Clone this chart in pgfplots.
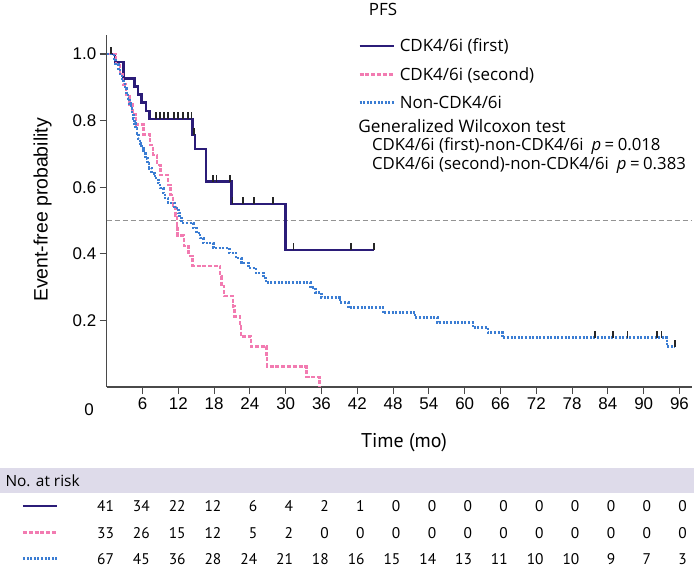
\documentclass[border=0pt]{standalone}
\usepackage{fontspec}
\setmainfont{Liberation Sans}
\newfontfamily\legfont{Open Sans}
\newfontfamily\tabfont{PT Sans}
\usepackage{pgfplots}
\pgfplotsset{compat=1.18}
\definecolor{cnavy}{HTML}{2B1C78}
\definecolor{cpink}{HTML}{F27BB1}
\definecolor{cblue}{HTML}{3B7DD3}
\definecolor{cband}{HTML}{DEDBEA}
\definecolor{caxis}{HTML}{4A4A4A}
\pgfdeclareplotmark{cens}{\pgfpathmoveto{\pgfqpoint{0pt}{0pt}}\pgfpathlineto{\pgfqpoint{0pt}{\pgfplotmarksize}}\pgfusepathqstroke}
\tikzset{
  navyline/.style={cnavy, line width=2.5bp},
  pinkline/.style={cpink, line width=2.5bp, dash pattern=on 4bp off 1.8bp},
  blueline/.style={cblue, line width=2.6bp, dash pattern=on 2bp off 1.6bp},
}
\begin{document}
\begin{tikzpicture}
\useasboundingbox (-106.7bp,-180bp) rectangle (587.3bp,387bp);
\begin{axis}[
  at={(0,0)}, anchor=south west,
  scale only axis, width=585bp, height=352bp,
  xmin=0, xmax=98.05, ymin=0, ymax=1.057,
  axis x line=bottom, axis y line=left,
  axis line style={-, draw=caxis, line width=1.2bp},
  xtick={6,12,...,96}, ytick={0.2,0.4,0.6,0.8,1.0},
  /pgf/number format/assume math mode=true,
  yticklabel style={/pgf/number format/.cd, fixed, fixed zerofill, precision=1},
  tick align=outside, major tick length=7bp,
  tick style={draw=caxis, line width=1.1bp},
  ticklabel style={font=\fontsize{17}{17}\selectfont},
  clip=false,
  legend style={at={(axis cs:42.12,1.0456)}, anchor=north west, draw=none, fill=none,
    inner sep=0pt, row sep=14bp, nodes={inner sep=0pt},
    font=\legfont\fontsize{17}{19}\selectfont,
    /tikz/every odd column/.append style={column sep=5bp}},
  legend cell align=left,
  legend image code/.code={\draw[#1] (0bp,0bp) -- (34bp,0bp);},
]
% median reference line
\addplot[forget plot, color=gray!85, line width=1bp, dash pattern=on 5bp off 3bp] coordinates {(0,0.5) (98.05,0.5)};

\addplot[const plot, navyline] coordinates {
(0,1) (1.39,0.9756) (2.85,0.9268) (4.7,0.9024) (5.27,0.878) (5.87,0.8537) (6.6,0.8293) (7.2,0.8049)
(14.35,0.757) (14.8,0.714) (16.65,0.617) (20.95,0.55) (30.0,0.411) (44.8,0.411)};
\addlegendentry{CDK4/6i (first)}

\addplot[const plot, pinkline] coordinates {
(0,1) (1.6,0.970) (2.2,0.939) (2.75,0.909) (3.25,0.879) (3.85,0.848) (4.35,0.818) (4.95,0.788)
(6.15,0.758) (7.25,0.727) (7.8,0.697) (8.4,0.667) (9.0,0.636) (10.3,0.606) (10.7,0.576) (11.1,0.545)
(11.5,0.515) (11.75,0.485) (11.9,0.455) (12.95,0.424) (13.75,0.394) (14.35,0.364) (19.0,0.333)
(19.2,0.303) (19.7,0.273) (21.2,0.242) (21.4,0.212) (22.35,0.182) (22.5,0.152) (24.2,0.121)
(26.8,0.091) (26.9,0.061) (33.5,0.030) (35.7,0.0)};
\addlegendentry{CDK4/6i (second)}

\addplot[const plot, blueline] coordinates {
(0,1) (1.2,0.985) (1.5,0.970) (1.95,0.955) (2.25,0.940) (2.55,0.925) (2.8,0.910) (3.05,0.896)
(3.35,0.881) (3.55,0.866) (3.85,0.851) (4.05,0.836) (4.25,0.821) (4.45,0.806) (4.65,0.791)
(4.85,0.776) (5.05,0.761) (5.3,0.746) (5.55,0.731) (5.85,0.716) (6.15,0.701) (6.5,0.687)
(6.85,0.672) (7.1,0.657) (7.55,0.642) (8.1,0.627) (8.65,0.612) (8.95,0.597) (9.5,0.582)
(9.8,0.567) (10.3,0.552) (11.4,0.537) (12.0,0.522) (12.25,0.507) (12.55,0.492) (14.5,0.477)
(15.05,0.462) (15.65,0.447) (16.2,0.432) (17.85,0.417) (20.55,0.402) (21.65,0.387) (22.6,0.372)
(23.8,0.357) (25.0,0.342) (26.3,0.327) (26.7,0.313) (34.2,0.298) (35.0,0.283) (36.0,0.268)
(39.1,0.253) (40.5,0.238) (46.3,0.223) (51.7,0.208) (55.4,0.193) (61.4,0.178) (63.9,0.163)
(66.3,0.148) (93.9,0.121) (95.3,0.121)};
\addlegendentry{Non-CDK4/6i}

% censoring marks
\addplot[forget plot, only marks, mark=cens, mark size=7bp, mark options={draw=black!85, line width=1.8bp}] coordinates {
(0.67,1) (8.3,0.8049) (8.9,0.8049) (9.6,0.8049) (10.3,0.8049) (11.3,0.8049) (12.0,0.8049) (12.8,0.8049)
(13.6,0.8049) (14.2,0.8049) (14.6,0.757) (17.8,0.617) (18.4,0.617) (20.6,0.617)
(21.1,0.55) (22.8,0.55) (24.7,0.55) (27.9,0.55) (31.3,0.411) (40.9,0.411) (44.8,0.411)};
\addplot[forget plot, only marks, mark=cens, mark size=7bp, mark options={draw=black!85, line width=1.8bp}] coordinates {
(81.9,0.148) (84.9,0.148) (87.3,0.148) (92.2,0.148) (93.0,0.148) (95.3,0.121)};

\node[font=\legfont\fontsize{17.3}{19}\selectfont, anchor=west] at (axis cs:41.6,0.784) {Generalized Wilcoxon test};
\node[font=\legfont\fontsize{16.8}{19}\selectfont, anchor=west] at (axis cs:43.9,0.724) {CDK4/6i (first)-non-CDK4/6i\hspace{8bp}\textit{p}\hspace{3.5bp}=\hspace{3.5bp}0.018};
\node[font=\legfont\fontsize{16.8}{19}\selectfont, anchor=west] at (axis cs:43.9,0.667) {CDK4/6i (second)-non-CDK4/6i\hspace{8bp}\textit{p}\hspace{3.5bp}=\hspace{3.5bp}0.383};
\node[font=\legfont\fontsize{17}{19}\selectfont] at (axis cs:46.3,1.135) {PFS};
\end{axis}
% y label
\node[rotate=90, font=\fontsize{19.5}{19.5}\selectfont] at (-64.2bp,177bp) {Event-free probability};
% origin label
\node[font=\fontsize{17}{17}\selectfont] at (-17.7bp,-23bp) {0};
% x label
\node[font=\tabfont\fontsize{20}{20}\selectfont] at (297.3bp,-56bp) {Time (mo)};
% risk table
\fill[cband] (-106.7bp,-81bp) rectangle (587.3bp,-106bp);
\node[font=\legfont\fontsize{15.5}{16}\selectfont, anchor=west] at (-104.7bp,-93.5bp) {No. at risk};
\draw[navyline] (-83.7bp,-119bp) -- (-49.7bp,-119bp);
\draw[pinkline] (-83.7bp,-145.5bp) -- (-49.7bp,-145.5bp);
\draw[blueline] (-83.7bp,-171.5bp) -- (-49.7bp,-171.5bp);
\foreach \v [count=\i from 0] in {41,34,22,12,6,4,2,1,0,0,0,0,0,0,0,0,0}
  \node[font=\tabfont\fontsize{15.5}{16}\selectfont, anchor=base east, inner sep=0pt] at ({\i*35.8bp+7.5bp},-124.5bp) {\v};
\foreach \v [count=\i from 0] in {33,26,15,12,5,2,0,0,0,0,0,0,0,0,0,0,0}
  \node[font=\tabfont\fontsize{15.5}{16}\selectfont, anchor=base east, inner sep=0pt] at ({\i*35.8bp+7.5bp},-151bp) {\v};
\foreach \v [count=\i from 0] in {67,45,36,28,24,21,18,16,15,14,13,11,10,10,9,7,3}
  \node[font=\tabfont\fontsize{15.5}{16}\selectfont, anchor=base east, inner sep=0pt] at ({\i*35.8bp+7.5bp},-177bp) {\v};
\end{tikzpicture}
\end{document}
